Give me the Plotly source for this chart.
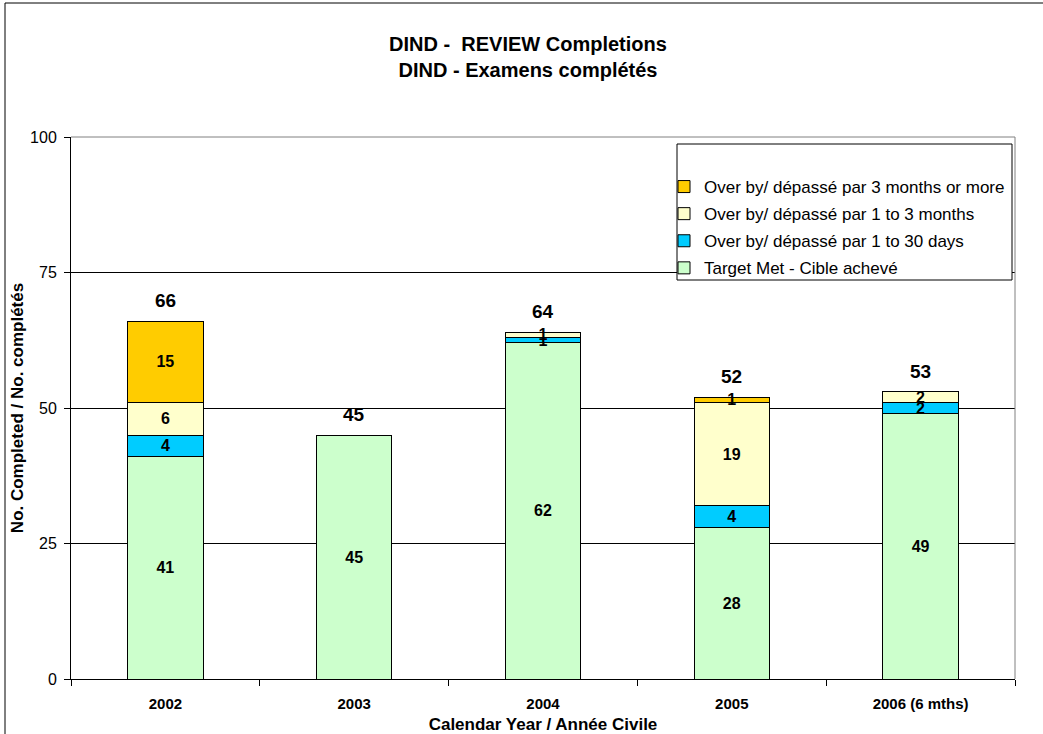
import plotly.graph_objects as go

# Review completions per calendar year, split by how late each review was
years = ["2002", "2003", "2004", "2005", "2006 (6 mths)"]
target_met = [41, 45, 62, 28, 49]
over_1_30_days = [4, 0, 1, 4, 2]
over_1_3_months = [6, 0, 1, 19, 2]
over_3_months_plus = [15, 0, 0, 1, 0]

# stacked bottom to top; legend lists them top to bottom (rank)
series = [
    ("Target Met - Cible achevé", target_met, "#CCFFCC", 4),
    ("Over by/ dépassé par 1 to 30 days", over_1_30_days, "#00CCFF", 3),
    ("Over by/ dépassé par 1 to 3 months", over_1_3_months, "#FFFFCC", 2),
    ("Over by/ dépassé par 3 months or more", over_3_months_plus, "#FFCC00", 1),
]

FONT = "Liberation Sans, Arial, sans-serif"

# plot-area geometry in pixels
L, R, T, B = 71, 28, 137, 55
W, H = 1043, 734
PW, PH = W - L - R, H - T - B


def px_x(x):
    return (x - L) / PW


def px_y(y):
    return 1 - (y - T) / PH


fig = go.Figure()
for name, vals, color, rank in series:
    fig.add_trace(go.Bar(
        x=years, y=vals, name=name, legendgroup=name, legendrank=rank,
        marker=dict(color=color, line=dict(color="black", width=1)),
        text=[str(v) if v else "" for v in vals],
        textposition="inside", insidetextanchor="middle", textangle=0,
        textfont=dict(family=FONT, size=16, color="black"),
        texttemplate="<b>%{text}</b>",
        constraintext="none", cliponaxis=False,
    ))

# total above each stack (category axis: annotations use the category index)
totals = [sum(v) for v in zip(target_met, over_1_30_days, over_1_3_months, over_3_months_plus)]
for i, tot in enumerate(totals):
    fig.add_annotation(x=i, y=tot, text=f"<b>{tot}</b>", showarrow=False,
                       yanchor="bottom", yshift=8,
                       font=dict(family=FONT, size=19, color="black"))

fig.update_layout(
    barmode="stack", bargap=0.6,
    width=W, height=H,
    margin=dict(l=L, r=R, t=T, b=B, autoexpand=False),
    paper_bgcolor="white", plot_bgcolor="white",
    font=dict(family=FONT, color="black"),
    uniformtext=dict(mode="show", minsize=16),
    title=dict(text="<b>DIND -  REVIEW Completions<br>DIND - Examens complétés</b>",
               x=528 / W, xanchor="center", y=0.930, yanchor="top",
               font=dict(family=FONT, size=20, color="black")),
    legend=dict(traceorder="grouped", x=px_x(664), y=px_y(169), xanchor="left", yanchor="top",
                bgcolor="rgba(0,0,0,0)", borderwidth=0,
                font=dict(family=FONT, size=17, color="black"),
                itemwidth=30, tracegroupgap=2, valign="middle"),
    showlegend=True,
)

fig.update_xaxes(
    type="category", automargin=False,
    showline=True, linecolor="black", linewidth=1, mirror=False,
    ticks="outside", ticklen=6, tickcolor="black", tickson="boundaries",
    ticklabelstandoff=11,
    tickfont=dict(family=FONT, size=15, color="black"),
    tickprefix="<b>", ticksuffix="</b>",
    title=dict(text="<b>Calendar Year / Année Civile</b>", standoff=8,
               font=dict(family=FONT, size=17, color="black")),
)
fig.update_yaxes(
    range=[0, 100], tickvals=[0, 25, 50, 75, 100], automargin=False,
    showline=True, linecolor="black", linewidth=1,
    ticks="outside", ticklen=6, tickcolor="black", ticklabelstandoff=4,
    showgrid=True, gridcolor="black", gridwidth=1, zeroline=False,
    tickfont=dict(family=FONT, size=16, color="black"),
    tickprefix="<b>", ticksuffix="</b>",
    title=dict(text="<b>No. Completed / No. complétés</b>", standoff=2,
               font=dict(family=FONT, size=17, color="black")),
)

# Plot-area frame (grey top/right edges)
fig.add_shape(type="line", xref="paper", yref="paper", x0=0, x1=1, y0=1, y1=1,
              line=dict(color="#808080", width=1))
fig.add_shape(type="line", xref="paper", yref="paper", x0=1, x1=1, y0=0, y1=1,
              line=dict(color="#808080", width=1))
# Legend box
fig.add_shape(type="rect", xref="paper", yref="paper",
              x0=px_x(677), x1=px_x(1012), y0=px_y(280), y1=px_y(144),
              line=dict(color="black", width=1), fillcolor="white", layer="above")
# Outer chart frame
fig.add_shape(type="rect", xref="paper", yref="paper",
              x0=px_x(5), x1=1.1, y0=-0.2, y1=px_y(3),
              line=dict(color="black", width=1), fillcolor="rgba(0,0,0,0)", layer="below")

fig.write_html("out.html")
